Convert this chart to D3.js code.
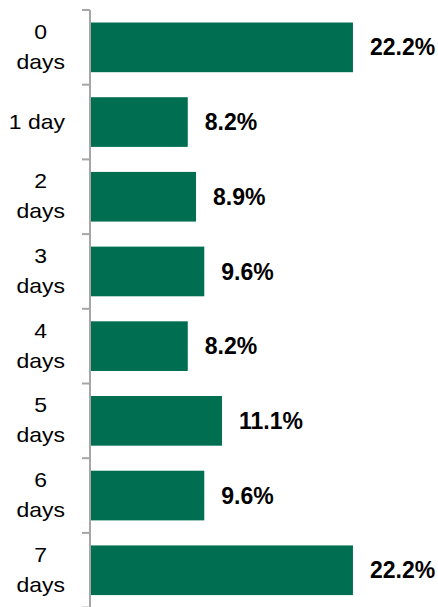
<!DOCTYPE html>
<html>
<head>
<meta charset="utf-8">
<script src="https://cdn.jsdelivr.net/npm/d3@7"></script>
<style>
  html, body { margin: 0; padding: 0; background: #fff; }
  svg { display: block; }
</style>
</head>
<body>
<svg id="chart" width="438" height="607"></svg>
<script>
const categories = ["0 days", "1 day", "2 days", "3 days", "4 days", "5 days", "6 days", "7 days"];
const labelLines = [["0", "days"], ["1 day"], ["2", "days"], ["3", "days"], ["4", "days"], ["5", "days"], ["6", "days"], ["7", "days"]];
const values = [22.2, 8.2, 8.9, 9.6, 8.2, 11.1, 9.6, 22.2];
const valueLabels = ["22.2%", "8.2%", "8.9%", "9.6%", "8.2%", "11.1%", "9.6%", "22.2%"];

const svg = d3.select("#chart");
const font = "'Liberation Sans', Arial, sans-serif";

const y = d3.scaleBand().domain(categories).range([10, 607.6]).paddingInner(0.335).paddingOuter(0.1675);
const x = d3.scaleLinear().domain([0, 25]).range([91, 386]);

// bars
svg.selectAll("rect.bar").data(values).join("rect")
  .attr("class", "bar")
  .attr("x", x(0))
  .attr("y", (d, i) => y(categories[i]))
  .attr("width", d => x(d) - x(0))
  .attr("height", y.bandwidth())
  .attr("fill", "#006f51");

// value labels
svg.selectAll("text.val").data(values).join("text")
  .attr("class", "val")
  .attr("x", d => x(d) + 17)
  .attr("y", (d, i) => y(categories[i]) + y.bandwidth() / 2)
  .attr("dy", "0.35em")
  .attr("font-family", font)
  .attr("font-weight", "bold")
  .attr("font-size", 23)
  .attr("fill", "#000")
  .text((d, i) => valueLabels[i]);

// axis
const step = y.step();
const axisG = svg.append("g");
axisG.append("line")
  .attr("x1", 90).attr("x2", 90)
  .attr("y1", 10).attr("y2", 607)
  .attr("stroke", "#a6a6a6").attr("stroke-width", 2);
const tickYs = d3.range(categories.length + 1).map(i => 10 + i * step);
axisG.selectAll("line.tick").data(tickYs).join("line")
  .attr("class", "tick")
  .attr("x1", 82).attr("x2", 90)
  .attr("y1", d => d).attr("y2", d => d)
  .attr("stroke", "#a6a6a6").attr("stroke-width", 2);

// category labels: block right-aligned at x=65, lines centered within block
const rightEdge = 65;
const lineH = 30;
const stretch = 1.16;
categories.forEach((c, i) => {
  const lines = labelLines[i];
  const cy = y(c) + y.bandwidth() / 2;
  const g = svg.append("g");
  const texts = lines.map((ln, j) => g.append("text")
    .attr("font-family", font)
    .attr("font-size", 19.8)
    .attr("fill", "#000")
    .attr("text-anchor", "start")
    .attr("y", cy + (j - (lines.length - 1) / 2) * lineH)
    .attr("dy", "0.33em")
    .text(ln));
  const widths = texts.map(t => t.node().getComputedTextLength() * stretch);
  const w = d3.max(widths);
  const center = rightEdge - w / 2;
  texts.forEach((t, j) => {
    t.attr("textLength", widths[j]).attr("lengthAdjust", "spacingAndGlyphs")
     .attr("x", center - widths[j] / 2);
  });
});
</script>
</body>
</html>
